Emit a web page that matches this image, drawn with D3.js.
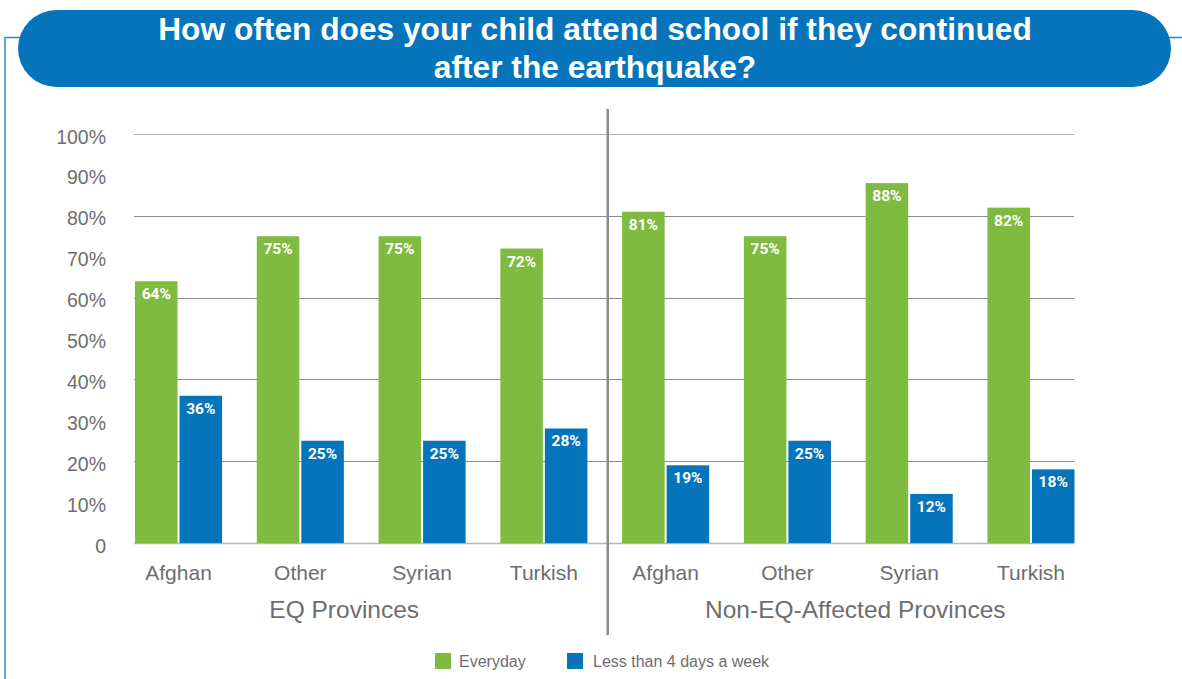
<!DOCTYPE html>
<html>
<head>
<meta charset="utf-8">
<script src="https://cdn.jsdelivr.net/npm/d3@7"></script>
<style>
  html, body { margin: 0; padding: 0; background: #fff; }
  svg { display: block; font-family: "Liberation Sans", Arial, sans-serif; }
</style>
</head>
<body>
<svg id="chart" width="1182" height="679"></svg>
<script>
// ---- data ----
const titleLines = ["How often does your child attend school if they continued", "after the earthquake?"];
const groups = ["EQ Provinces", "Non-EQ-Affected Provinces"];
const nationalities = ["Afghan", "Other", "Syrian", "Turkish"];
const seriesNames = ["Everyday", "Less than 4 days a week"];
const everyday = [64, 75, 75, 72, 81, 75, 88, 82];
const lessThan4 = [36, 25, 25, 28, 19, 25, 12, 18];
const yTicks = [0, 10, 20, 30, 40, 50, 60, 70, 80, 90, 100];
const gridTicks = [0, 20, 40, 60, 80, 100];
const colors = ["#80BB41", "#0674BA"];

// ---- build rows ----
const rows = [];
groups.forEach((g, gi) => nationalities.forEach((n, ni) => {
  const i = gi * nationalities.length + ni;
  rows.push({ key: g + "|" + n, group: g, name: n, values: [everyday[i], lessThan4[i]] });
}));

const svg = d3.select("#chart");
const blue = "#0674BA";

// ---- frame ----
svg.append("path")
  .attr("d", "M5,679 L5,37.5 L20,37.5 M1168,37.5 L1182,37.5")
  .attr("fill", "none").attr("stroke", "#2C86C8").attr("stroke-width", 1.5);

// ---- title pill ----
svg.append("rect")
  .attr("x", 18).attr("y", 10).attr("width", 1153).attr("height", 77)
  .attr("rx", 38.5).attr("ry", 38.5).attr("fill", blue);

const titleG = svg.append("g");
titleLines.forEach((t, i) => {
  titleG.append("text")
    .attr("x", 595).attr("y", 40 + i * 38)
    .attr("text-anchor", "middle")
    .attr("fill", "#fff").attr("font-weight", "bold")
    .attr("font-size", 28)
    .text(t);
});
{
  const first = titleG.select("text").node();
  const w = first.getComputedTextLength();
  const fs = 28 * 874 / w;
  titleG.selectAll("text").attr("font-size", fs);
}

// ---- scales ----
const x = d3.scaleBand().domain(rows.map(d => d.key)).range([135, 1074.5]).paddingInner(0.285).paddingOuter(0);
const xInner = d3.scaleBand().domain([0, 1]).range([0, x.bandwidth()]).paddingInner(0.045);
const y = d3.scaleLinear().domain([0, 100]).range([543, 134]);

// ---- grid ----
svg.append("g").selectAll("line").data(gridTicks).join("line")
  .attr("x1", 134).attr("x2", 1074)
  .attr("y1", d => Math.round(y(d)) + 0.5).attr("y2", d => Math.round(y(d)) + 0.5)
  .attr("stroke", d => (d === 0 || d === 100) ? "#B5B5B5" : "#8C8C8C").attr("stroke-width", d => d === 0 ? 1.5 : 1);

// ---- y axis labels ----
const yAxis = d3.axisLeft(y).tickValues(yTicks).tickSize(0).tickPadding(0)
  .tickFormat(d => d === 0 ? "0" : d + "%");
const yg = svg.append("g").attr("transform", "translate(106,2)").call(yAxis);
yg.select(".domain").remove();
yg.selectAll("text").attr("font-size", 19.5).attr("fill", "#6D6E71")
  .attr("font-family", "Liberation Sans, Arial, sans-serif").attr("dy", "0.36em");

// ---- bars ----
const barG = svg.append("g").selectAll("g").data(rows).join("g")
  .attr("transform", d => `translate(${x(d.key)},0)`);
barG.selectAll("rect").data(d => d.values.map((v, i) => ({ v, i }))).join("rect")
  .attr("x", d => xInner(d.i)).attr("width", xInner.bandwidth())
  .attr("y", d => y(d.v)).attr("height", d => y(0) - y(d.v))
  .attr("fill", d => colors[d.i]);
barG.selectAll("text").data(d => d.values.map((v, i) => ({ v, i }))).join("text")
  .attr("x", d => xInner(d.i) + xInner.bandwidth() / 2)
  .attr("y", d => y(d.v) + 18)
  .attr("text-anchor", "middle")
  .attr("fill", "#fff").attr("font-weight", "bold").attr("font-size", 15.5)
  .attr("font-family", "Roboto, Liberation Sans, sans-serif")
  .text(d => d.v + "%");

// ---- category labels ----
const xAxis = d3.axisBottom(x).tickSize(0).tickPadding(0).tickFormat(k => k.split("|")[1]);
const xg = svg.append("g").attr("transform", "translate(0,564)").call(xAxis);
xg.select(".domain").remove();
xg.selectAll("text").attr("font-size", 21).attr("fill", "#6D6E71")
  .attr("font-family", "Liberation Sans, Arial, sans-serif").attr("dy", "0.75em");

// ---- group labels ----
const groupOffset = [-17, 7];
svg.append("g").selectAll("text").data(groups).join("text")
  .attr("x", (g, gi) => {
    const keys = rows.filter(r => r.group === g).map(r => r.key);
    return (x(keys[0]) + x(keys[keys.length - 1]) + x.bandwidth()) / 2 + groupOffset[gi];
  })
  .attr("y", 618)
  .attr("text-anchor", "middle").attr("font-size", 24.5).attr("fill", "#6D6E71")
  .text(d => d);

// ---- divider ----
{
  const k3 = rows[3].key, k4 = rows[4].key;
  const mx = (x(k3) + x.bandwidth() + x(k4)) / 2 + 3;
  svg.append("line").attr("x1", mx).attr("x2", mx).attr("y1", 109).attr("y2", 635)
    .attr("stroke", "#8A8A8A").attr("stroke-width", 2.5);
}

// ---- legend ----
const legendX = [435, 567];
const lg = svg.append("g").selectAll("g").data(seriesNames).join("g")
  .attr("transform", (d, i) => `translate(${legendX[i]},653)`);
lg.append("rect").attr("width", 16).attr("height", 16).attr("fill", (d, i) => colors[i]);
lg.append("text").attr("x", (d, i) => i === 0 ? 24 : 26).attr("y", 13.5)
  .attr("font-size", 16).attr("fill", "#6D6E71").text(d => d);
</script>
</body>
</html>
